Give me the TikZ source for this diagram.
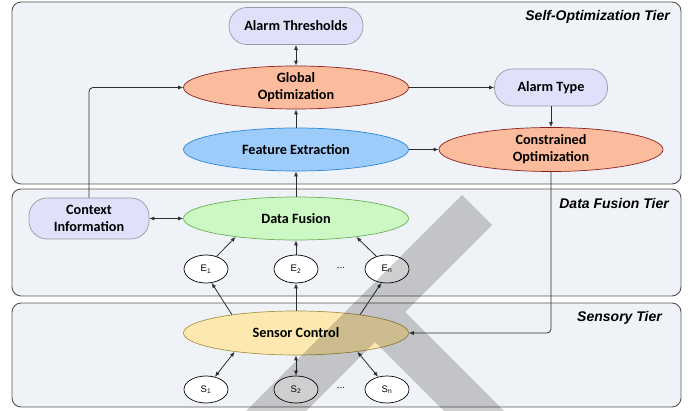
\documentclass[tikz,border=0pt]{standalone}
\usepackage{fontspec}
\setmainfont{Carlito}
\newfontfamily\tierfont{Liberation Sans}
\usetikzlibrary{arrows.meta,shapes.geometric}
\definecolor{tierbg}{HTML}{EFF2F7}
\definecolor{tierln}{HTML}{555555}
\definecolor{pillbg}{HTML}{DFE1FA}
\definecolor{pillln}{HTML}{9A9AA6}
\definecolor{salbg}{HTML}{FBBB9D}
\definecolor{salln}{HTML}{8B2323}
\definecolor{blubg}{HTML}{9ECCFA}
\definecolor{bluln}{HTML}{2A8AD4}
\definecolor{grnbg}{HTML}{CCF8C4}
\definecolor{grnln}{HTML}{6CB05A}
\definecolor{yelbg}{HTML}{FDE9AF}
\definecolor{yelln}{HTML}{A8954A}
\definecolor{conn}{HTML}{2E2E2E}
\begin{document}
\begin{tikzpicture}[x=1pt,y=-1pt,
  tier/.style={draw=tierln, fill=tierbg, line width=0.9pt, rounded corners=9pt},
  tierlabel/.style={font=\tierfont\bfseries\itshape\fontsize{14}{16}\selectfont, anchor=east, inner sep=0pt},
  lbl/.style={font=\bfseries\fontsize{14.2}{17}\selectfont, align=center, text=black, inner sep=0pt},
  pill/.style={lbl, draw=pillln, fill=pillbg, line width=0.7pt, rectangle, rounded corners=18pt, minimum height=37pt},
  ell/.style={lbl, ellipse, line width=0.7pt, minimum width=225pt, minimum height=43pt},
  salm/.style={ell, draw=salln, fill=salbg},
  blu/.style={ell, draw=bluln, fill=blubg},
  grn/.style={ell, draw=grnln, fill=grnbg},
  yel/.style={ell, draw=yelln, fill=yelbg},
  small/.style={ellipse, draw=black, fill=white, line width=0.7pt, minimum width=44pt, inner sep=0pt, font=\tierfont\fontsize{9.5}{10}\selectfont},
  dots/.style={inner sep=0pt, font=\tierfont\fontsize{10}{10}\selectfont},
  arr/.style={draw=conn, line width=0.8pt, -{Latex[length=5pt,width=4pt]}},
  arrb/.style={draw=conn, line width=0.8pt, {Latex[length=5pt,width=4pt]}-{Latex[length=5pt,width=4pt]}}
]
\useasboundingbox (0,0) rectangle (694,411);
\clip (0,0) rectangle (694,411);
\fill[white] (0,0) rectangle (694,411);
% tiers
\draw[tier] (12,2) rectangle (681,184);
\draw[tier] (12,189) rectangle (681,296);
\draw[tier] (12,303) rectangle (681,407);
\node[tierlabel] (t1) at (670,17) {Self-Optimization Tier};
\node[tierlabel] (t2) at (669,203) {Data Fusion Tier};
\node[tierlabel] (t3) at (662,318) {Sensory Tier};
% nodes
\node[pill, minimum width=134pt] (at) at (296,26) {Alarm Thresholds};
\node[salm] (go) at (296,87.5) {Global\\Optimization};
\node[blu] (fe) at (296,149.5) {Feature Extraction};
\node[pill, minimum width=113pt] (aty) at (551,87.5) {Alarm Type};
\node[salm, minimum width=224pt, minimum height=44pt] (co) at (551,149.5) {Constrained\\Optimization};
\node[pill, minimum width=120pt, minimum height=41pt] (ci) at (89,218.5) {Context\\Information};
\node[grn] (df) at (296,218.5) {Data Fusion};
\node[small, minimum height=28pt] (e1) at (206,269) {E\textsubscript{1}};
\node[small, minimum height=28pt] (e2) at (296,269) {E\textsubscript{2}};
\node[small, minimum height=28pt] (en) at (387,269) {E\textsubscript{n}};
\node[dots] (ed) at (341,268) {...};
\node[yel, minimum height=44pt] (sc) at (296,333) {Sensor Control};
\node[small, minimum height=27pt] (s1) at (206,389.5) {S\textsubscript{1}};
\node[small, minimum height=27pt] (s2) at (296,389.5) {S\textsubscript{2}};
\node[small, minimum height=27pt] (sn) at (387,389.5) {S\textsubscript{n}};
\node[dots] (sd) at (341,388) {...};
% connectors
\draw[arrb] (at) -- (go);
\draw[arr] (fe) -- (go);
\draw[arr] (df) -- (fe);
\draw[arr] (go) -- (aty);
\draw[arr] (aty) -- (co);
\draw[arr] (fe) -- (co);
\draw[arr, rounded corners=4pt] (ci.north) |- (go.west);
\draw[arrb] (ci) -- (df);
\draw[arr] (e1.50) -- (df.197);
\draw[arr] (e2) -- (df);
\draw[arr] (en.130) -- (df.343);
\draw[arr] (sc.164) -- (e1.292);
\draw[arr] (sc) -- (e2);
\draw[arr] (sc.16) -- (en.248);
\draw[arrb] (sc.197) -- (s1.55);
\draw[arrb] (sc) -- (s2);
\draw[arrb] (sc.343) -- (sn.125);
\draw[arr, rounded corners=4pt] (co.south) |- (sc.east);
% grey cross overlay
\fill[black, opacity=0.19] (462,195) -- (492,225) -- (405,312) -- (513,420) -- (453,420) -- (375,342) -- (297,420) -- (237,420) -- cycle;
\end{tikzpicture}
\end{document}
